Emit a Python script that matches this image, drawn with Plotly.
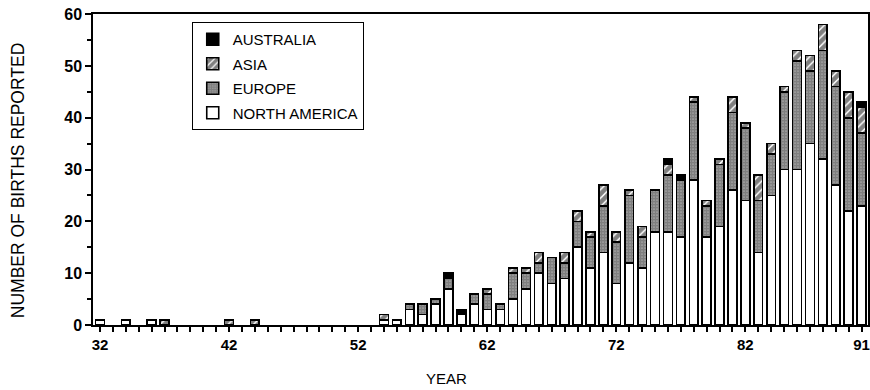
import plotly.graph_objects as go

years = list(range(1932, 1992))

north_america = [1,0,1,0,1,0,0,0,0,0, 0,0,0,0,0,0,0,0,0,0,
                 0,0,1,1,3,2,4,7,2,4, 3,3,5,7,10,8,9,15,11,14,
                 8,12,11,18,18,17,28,17,19,26, 24,14,25,30,30,35,32,27,22,23]
europe = [0,0,0,0,0,0,0,0,0,0, 0,0,0,0,0,0,0,0,0,0,
          0,0,0,0,1,2,1,2,0,2, 3,1,5,3,2,5,3,5,6,9,
          8,13,6,8,11,11,15,6,12,15, 14,10,8,15,21,14,21,19,18,14]
asia = [0,0,0,0,0,1,0,0,0,0, 1,0,1,0,0,0,0,0,0,0,
        0,0,1,0,0,0,0,0,0,0, 1,0,1,1,2,0,2,2,1,4,
        2,1,2,0,2,0,1,1,1,3, 1,5,2,1,2,3,5,3,5,5]
australia = [0,0,0,0,0,0,0,0,0,0, 0,0,0,0,0,0,0,0,0,0,
             0,0,0,0,0,0,0,1,1,0, 0,0,0,0,0,0,0,0,0,0,
             0,0,0,0,1,1,0,0,0,0, 0,0,0,0,0,0,0,0,0,1]

tick_years = [1932, 1942, 1952, 1962, 1972, 1982, 1991]
tick_text = ["32", "42", "52", "62", "72", "82", "91"]
y_ticks = [0, 10, 20, 30, 40, 50, 60]

FONT = "Liberation Sans, Arial, sans-serif"

def nz(vals):
    return [v if v else None for v in vals]

fig = go.Figure()
series = [
    ("NORTH AMERICA", north_america, dict(color="white"), 4),
    ("EUROPE", europe, dict(color="white",
                            pattern=dict(shape=".", fgcolor="black", bgcolor="white",
                                         size=3, solidity=0.85)), 3),
    ("ASIA", asia, dict(color="white",
                        pattern=dict(shape="/", fgcolor="black", bgcolor="white",
                                     size=6, solidity=0.75)), 2),
    ("AUSTRALIA", australia, dict(color="black"), 1),
]
for name, vals, mk, rank in series:
    mk = dict(mk)
    mk["line"] = dict(color="black", width=1.6)
    fig.add_trace(go.Bar(x=years, y=nz(vals), name=name, marker=mk,
                         width=0.68, legendgroup=name, legendrank=rank))

x0, x1 = 1931.46, 1991.5
pw = 777.0

fig.update_layout(
    width=870, height=390,
    margin=dict(l=93, r=0, t=14, b=65),
    paper_bgcolor="white", plot_bgcolor="white",
    barmode="stack", bargap=0.3,
    font=dict(family=FONT, color="black", size=15),
    showlegend=True,
    legend=dict(x=(192-93)/pw, y=1-(22-14)/311, xanchor="left", yanchor="top",
                traceorder="grouped", tracegroupgap=2,
                bordercolor="black", borderwidth=1, bgcolor="white",
                font=dict(size=15, family=FONT)),
    xaxis=dict(range=[x0, x1], tickvals=tick_years, ticktext=tick_text,
               ticks="outside", ticklen=5, tickwidth=2, tickcolor="black",
               tickfont=dict(size=15, family=FONT, weight="bold"),
               minor=dict(dtick=1, tick0=1932, ticks="outside", ticklen=5,
                          tickwidth=2, tickcolor="black"),
               showline=True, linecolor="black", linewidth=2, mirror=True,
               showgrid=False, zeroline=False),
    yaxis=dict(range=[0, 60.02], tickvals=y_ticks, ticks="outside", ticklen=6,
               tickwidth=1.5, tickcolor="black",
               tickfont=dict(size=16, family=FONT, weight="bold"),
               minor=dict(dtick=5, ticks="outside", ticklen=4, tickwidth=1.5,
                          tickcolor="black"),
               showline=True, linecolor="black", linewidth=1.5, mirror=True,
               showgrid=False, zeroline=False),
    annotations=[
        dict(text="NUMBER OF BIRTHS REPORTED", xref="paper", yref="paper",
             x=(18-93)/pw, y=(325-180)/311, textangle=-90, showarrow=False,
             xanchor="center", yanchor="middle", font=dict(size=17.5, family=FONT)),
        dict(text="YEAR", xref="paper", yref="paper",
             x=(447-93)/pw, y=-(378-325)/311, showarrow=False,
             xanchor="center", yanchor="middle", font=dict(size=15, family=FONT)),
    ],
)

# remove the browser's default 8px body margin so the figure fills the window
fig.write_html("out.html",
               config={"displayModeBar": False},
               post_script="document.body.style.margin='0';"
                           "document.body.style.overflow='hidden';")
